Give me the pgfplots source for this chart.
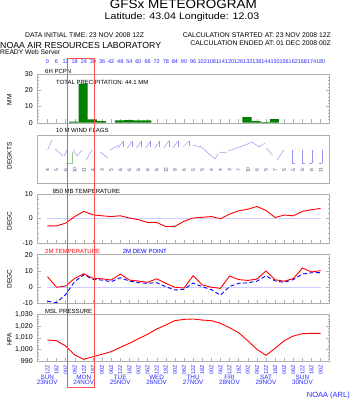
\documentclass[border=0pt]{standalone}
\usepackage{pgfplots}
\pgfplotsset{compat=1.18}
\usepackage{fontspec}
\setmainfont{Liberation Sans}
\definecolor{framegray}{RGB}{175,175,175}
\definecolor{lblue}{RGB}{40,40,255}
\definecolor{barbcol}{RGB}{150,150,240}
\definecolor{zerocol}{RGB}{205,205,255}
\definecolor{pgreen}{RGB}{0,128,0}
\definecolor{boxred}{RGB}{255,80,80}
\definecolor{spdcol}{RGB}{70,70,130}
\definecolor{grn}{RGB}{150,200,150}
\newcommand{\fs}[1]{\fontsize{#1}{#1}\selectfont}

\pgfplotstableread{
h t850 t2 td p
0 -3.0 6.5 -8.6 1008.1
6 -3.0 0.0 -9.5 1007.5
12 -1.9 0.7 -4.5 1003.0
18 0.8 5.5 3.5 995.4
24 2.9 8.3 7.7 991.7
30 1.5 5.5 4.8 993.9
36 1.1 5.2 4.4 996.0
42 0.8 4.4 3.4 998.2
48 1.1 8.1 5.8 1001.9
54 0.2 4.4 3.8 1005.3
60 -0.5 3.8 2.8 1009.2
66 -1.6 3.0 2.4 1013.0
72 -1.6 5.2 2.8 1017.5
78 -3.3 2.4 0.3 1020.9
84 -3.2 0.0 -1.7 1024.6
90 -1.1 -0.5 -1.3 1025.7
96 0.2 7.1 2.6 1026.0
102 0.5 1.4 0.3 1025.1
108 0.8 0.0 -1.5 1024.6
114 -0.1 -0.7 -4.9 1022.3
120 1.8 6.9 0.5 1018.6
126 3.1 4.7 2.4 1014.3
132 3.8 4.2 2.7 1007.5
138 4.9 5.0 3.7 1000.2
144 3.3 10.0 7.0 995.1
150 0.4 4.6 3.9 1001.0
156 1.4 3.7 3.0 1007.5
162 1.1 5.3 4.7 1011.5
168 2.9 11.8 8.1 1013.5
174 3.6 9.4 8.9 1013.8
180 4.1 10.2 9.0 1013.8
}\metdata

\pgfplotsset{
  met/.style={
    scale only axis, width=291.9pt, anchor=north west,
    xmin=-6.6, xmax=185.7,
    axis line style={draw=framegray},
    tick style={framegray, line width=0.4pt},
    xtick={0,6,...,180},
    xticklabel pos=right, xtick pos=left,
    tick align=inside, major tick length=3.3pt, minor tick length=1.8pt,
    yticklabel style={font=\fs{7}, xshift=-1.2pt},
    /pgf/number format/assume math mode=true,
  }
}

\begin{document}
\begin{tikzpicture}
\useasboundingbox (0pt,0pt) rectangle (352pt,400pt);

% precipitation
\begin{axis}[met, at={(37.4pt,326pt)}, height=48.7pt,
  ymin=0, ymax=30, ytick={0,10,20,30}, minor y tick num=4,
  xticklabel style={font=\fs{5.5}, text=lblue, anchor=base, yshift=10.7pt, inner sep=0pt}]
\addplot[ybar, bar width=6, fill=pgreen, draw=none] coordinates {
(17.3,0.7) (23.5,24) (29.5,2.0) (35.5,0.9)
(47.5,1.4) (53.5,1.6) (59.5,1.5) (65.5,1.5)
(131.5,3.4) (137.5,1.0) (143.5,0.4) (149.5,2.2)};
\end{axis}

% wind
\begin{axis}[met, at={(37.4pt,264.7pt)}, height=47.4pt,
  ymin=0, ymax=47.4, xtick=\empty, ytick=\empty]
\addplot[barbcol, line width=0.5pt, quiver={u=\thisrow{u}, v=\thisrow{v}}] table {
x y u v
0.13 32.7 2.96 10
5.07 33.7 5.27 -7
11.0 26.7 1.98 6
16.9 32.7 2.63 -6
25.5 22.7 3.95 10
34.7 30.7 5.27 -6
41.3 32.7 5.93 5
46.68 34.7 3.29 7
52.68 34.7 3.29 7
58.68 34.7 3.29 7
64.68 34.7 3.29 7
70.68 34.7 3.29 7
76.68 34.7 3.29 7
82.68 34.7 3.29 7
89.4 35.7 3.95 6
96.0 37.7 4.61 -2
100.6 36.7 5.93 -8
106.5 28.7 3.95 -5
113.1 30.7 5.27 -1
119.0 31.7 5.93 3
124.9 34.7 5.27 3
130.2 37.7 4.61 3
134.8 40.7 4.61 -5
139.4 35.7 3.95 4
144.3 34.7 3.95 -7
151.2 22.7 4.61 10
161.2 32.7 0 -13
167.7 32.7 0 -13
174.3 32.7 0 -13
180.9 32.7 0 -13
};
\addplot[barbcol, line width=0.5pt, quiver={u=\thisrow{u}, v=\thisrow{v}}] table {
x y u v
19.53 26.7 3.3 6
49.97 41.7 0 -6
55.97 41.7 0 -6
61.97 41.7 0 -6
67.97 41.7 0 -6
73.97 41.7 0 -6
79.97 41.7 0 -6
85.97 41.7 0 -6
93.35 41.7 0 -5
110.45 23.7 1.98 5
161.2 19.7 2 0
167.7 19.7 2 0
174.3 19.7 -2 0
180.9 19.7 -2 0
};
\addplot[grn, line width=0.6pt, quiver={u=\thisrow{u}, v=\thisrow{v}}] table {
x y u v
16.6 19.7 0 11
16.6 19.7 -4.6 0
};
\addplot[only marks, mark=none, nodes near coords, point meta=explicit symbolic,
  nodes near coords style={rotate=90, anchor=center, font=\fs{5}, text=spdcol, inner sep=0pt}]
  table[meta=s] {
x y s
0 12.7 4
6 12.7 5
12 12.7 6
18 12.7 10
24 12.7 11
30 12.7 4
36 12.7 3
42 12.7 5
48 12.7 6
54 12.7 6
60 12.7 6
66 12.7 6
72 12.7 6
78 12.7 12
84 12.7 8
90 12.7 6
96 12.7 5
102 12.7 5
108 12.7 4
114 12.7 4
120 12.7 3
126 12.7 7
132 12.7 10
138 12.7 6
144 12.7 5
150 12.7 7
156 12.7 5
162 12.7 5
168 12.7 6
174 12.7 8
180 12.7 11
};
\end{axis}

% 850 mb temperature
\begin{axis}[met, at={(37.4pt,206pt)}, height=49pt,
  ymin=-10, ymax=10, ytick={-10,0,10}, minor y tick num=4, xticklabels={}]
\addplot[zerocol, line width=0.5pt] coordinates {(0,0) (180,0)};
\addplot[red, line width=0.9pt, mark=none] table[x=h, y=t850] {\metdata};
\end{axis}

% 2 m temperature / dew point
\begin{axis}[met, at={(37.4pt,145.3pt)}, height=48.8pt,
  ymin=-10, ymax=20, ytick={-10,0,10,20}, minor y tick num=4, xticklabels={}]
\addplot[zerocol, line width=0.5pt] coordinates {(0,0) (180,0)};
\addplot[blue, line width=0.9pt, dash pattern=on 4pt off 2.5pt, mark=none] table[x=h, y=td] {\metdata};
\addplot[red, line width=0.9pt, mark=none] table[x=h, y=t2] {\metdata};
\end{axis}

% MSL pressure
\begin{axis}[met, at={(37.4pt,85.7pt)}, height=47pt,
  ymin=990, ymax=1030, ytick={990,1000,1010,1020,1030}, minor y tick num=4,
  xticklabel pos=left,
  xticklabels={12Z,18Z,00Z,06Z,12Z,18Z,00Z,06Z,12Z,18Z,00Z,06Z,12Z,18Z,00Z,06Z,12Z,18Z,00Z,06Z,12Z,18Z,00Z,06Z,12Z,18Z,00Z,06Z,12Z,18Z,00Z},
  xticklabel style={font=\fs{5.5}, text=lblue, rotate=90, anchor=east, inner sep=0pt, xshift=0pt},
  xticklabel shift=3.5pt]
\addplot[red, line width=0.9pt, mark=none] table[x=h, y=p] {\metdata};
\end{axis}

\begin{scope}[x=1pt, y=1pt, every node/.style={inner sep=0pt}]
\node[anchor=base, font=\fs{12.5}, text depth=0pt] at (183.3,391.3) {\scalebox{1.08}[1]{GFSx METEOROGRAM}};
\node[anchor=base, font=\fs{9.5}, text height=7pt] at (182,380.3) {\scalebox{1.12}[1]{Latitude: 43.04 Longitude:  12.03}};
\node[anchor=base west, font=\fs{6.8}] at (25,362) {DATA INITIAL TIME: 23 NOV 2008 12Z};
\node[anchor=base east, font=\fs{6.8}] at (331,362) {CALCULATION STARTED AT: 23 NOV 2008 12Z};
\node[anchor=base east, font=\fs{6.8}] at (331,354.5) {CALCULATION ENDED AT: 01 DEC 2008 00Z};
\node[anchor=base west, font=\fs{8.75}] at (0,351) {NOAA AIR RESOURCES LABORATORY};
\node[anchor=base west, font=\fs{6.7}] at (0,345) {READY Web Server};
\node[anchor=base east, font=\fs{7.5}, text=lblue] at (350,2.7) {NOAA (ARL)};
% panel titles
\node[anchor=base west, font=\fs{6}] at (45,326.7) {6H PCPN};
\node[anchor=base west, font=\fs{6}] at (56,315) {TOTAL PRECIPITATION:  44.1 MM};
\node[anchor=base west, font=\fs{6}] at (56,267.3) {10 M  WIND FLAGS};
\node[anchor=base west, font=\fs{6}] at (52.7,206.7) {850 MB  TEMPERATURE};
\node[anchor=base west, font=\fs{6}, text=red] at (45,146.7) {2M TEMPERATURE};
\node[anchor=base west, font=\fs{6}, text=blue] at (122.7,146.7) {2M  DEW POINT};
\node[anchor=base west, font=\fs{6}] at (45,86) {MSL PRESSURE};
% y axis labels
\node[rotate=90, font=\fs{6.5}] at (9.3,300) {MM};
\node[rotate=90, font=\fs{6.5}] at (9.3,244) {DEGKTS};
\node[rotate=90, font=\fs{6.5}] at (9.3,179.3) {DEGC};
\node[rotate=90, font=\fs{6.5}] at (9.3,120.7) {DEGC};
\node[rotate=90, font=\fs{6.5}] at (9.3,60.7) {HPA};
% day labels
\foreach \x/\d/\n in {47.3/SUN/23NOV, 83.7/MON/24NOV, 120.2/TUE/25NOV, 156.6/WED/26NOV, 193.1/THU/27NOV, 229.5/FRI/28NOV, 266/SAT/29NOV, 302.4/SUN/30NOV} {
  \node[anchor=base, font=\fs{6.3}, text=lblue] at (\x,20.5) {\d};
  \node[anchor=base, font=\fs{6.3}, text=lblue] at (\x,15.5) {\n};
}
\draw[boxred, line width=0.6pt] (67.5,341.7) rectangle (94.5,13);
\end{scope}
\end{tikzpicture}
\end{document}
